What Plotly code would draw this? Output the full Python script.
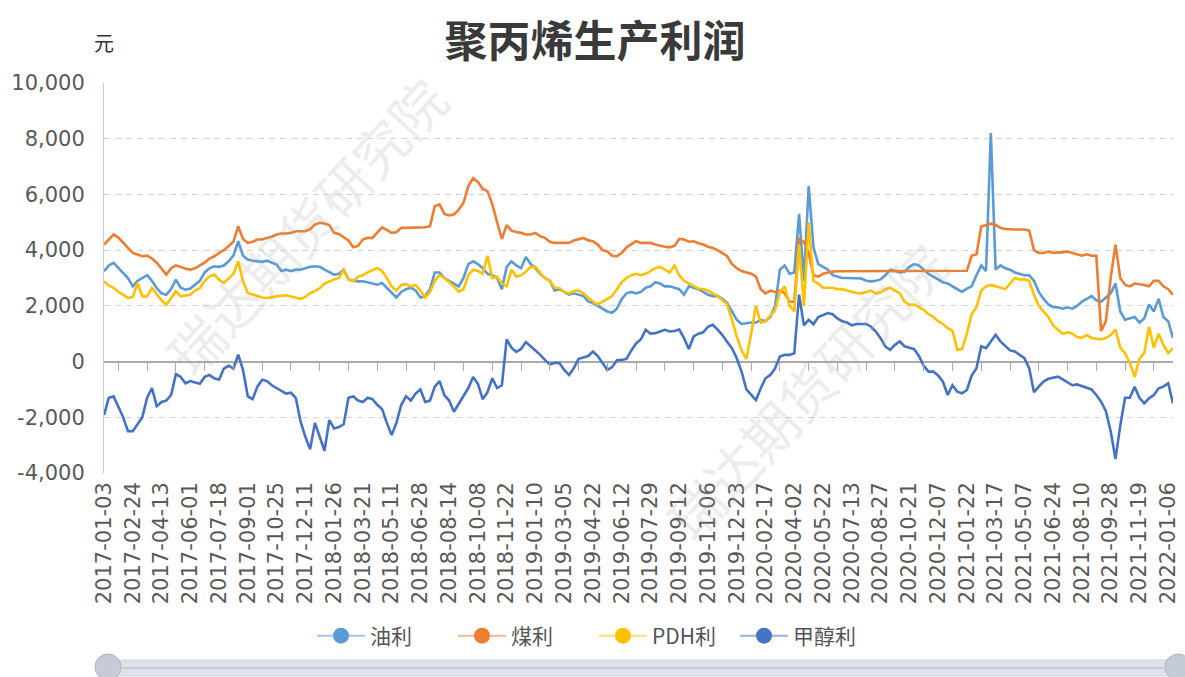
import pandas as pd
import plotly.graph_objects as go

# ---------------- data ----------------
tick_labels = [
    "2017-01-03", "2017-02-24", "2017-04-13", "2017-06-01", "2017-07-18", "2017-09-01",
    "2017-10-25", "2017-12-11", "2018-01-26", "2018-03-21", "2018-05-11", "2018-06-28",
    "2018-08-14", "2018-10-08", "2018-11-22", "2019-01-10", "2019-03-05", "2019-04-22",
    "2019-06-12", "2019-07-29", "2019-09-12", "2019-11-06", "2019-12-23", "2020-02-17",
    "2020-04-02", "2020-05-22", "2020-07-13", "2020-08-27", "2020-10-21", "2020-12-07",
    "2021-01-22", "2021-03-17", "2021-05-07", "2021-06-24", "2021-08-10", "2021-09-28",
    "2021-11-19", "2022-01-06",
]
tail_dates = ["2022-01-06", "2022-01-11"]

# sampled observation dates (6 per label interval)
dates = []
for a, b in zip(tick_labels[:-1], tick_labels[1:]):
    days = pd.bdate_range(a, b, inclusive="left")
    n = len(days)
    dates += [days[round(i * n / 6)].strftime("%Y-%m-%d") for i in range(6)]
dates += tail_dates

oil = [
    3240, 3450, 3540, 3350, 3200, 3000, 2700, 2900, 3000, 3100, 2900, 2640, 2450, 2400, 2600, 2940,
    2650, 2580, 2620, 2760, 2900, 3200, 3350, 3420, 3400, 3450, 3600, 3800, 4320, 3800, 3660, 3620,
    3600, 3580, 3620, 3550, 3480, 3250, 3300,
    3250, 3300, 3300, 3360, 3400, 3420, 3400, 3300, 3200, 3120, 3150, 3300, 2950, 2900, 2880, 2880,
    2850, 2800, 2760, 2820, 2650, 2500, 2300, 2500, 2600, 2650, 2550, 2300, 2350, 2600, 3200, 3200,
    3000, 2900, 2800, 2700, 3000, 3500, 3600, 3500,
    3350, 3150, 3100, 3000, 2600, 3400, 3600, 3450, 3350, 3750, 3500, 3350, 3150, 3000, 2900, 2550,
    2600, 2500, 2400, 2450, 2400, 2350, 2160, 2100, 2000, 1900, 1800, 1750, 1900, 2250, 2450, 2500,
    2450, 2500, 2650, 2700, 2850, 2800, 2700, 2700,
    2650, 2600, 2400, 2700, 2650, 2600, 2500, 2400, 2350, 2350, 2250, 2100, 1800, 1500, 1350, 1380,
    1400, 1400, 1500, 1450, 1600, 2000, 3300, 3450, 3150, 3200, 5300, 2900, 6300, 4100, 3500, 3400,
    3300, 3100, 3050, 3000, 3000, 3000, 3000,
    2980, 2900, 2880, 2900, 2950, 3100, 3300, 3250, 3200, 3220, 3400, 3500, 3450, 3300, 3150, 3050,
    2950, 2850, 2800, 2700, 2600, 2500, 2620, 2700, 3100, 3450, 3250, 8200, 3300, 3450, 3350, 3300,
    3200, 3150, 3100, 3100, 2900, 2500, 2250, 2050,
    1950, 1950, 1900, 1950, 1900, 2000, 2150, 2250, 2350, 2200, 2150, 2300, 2450, 2800, 1800, 1500,
    1550, 1600, 1400, 1550, 2050, 1800, 2250, 1600, 1450, 850,
]

coal = [
    4200, 4400, 4560, 4450, 4250, 4080, 3900, 3850, 3780, 3800, 3700, 3550, 3350, 3120, 3350, 3450,
    3400, 3330, 3300, 3350, 3450, 3550, 3700, 3780, 3900, 4000, 4150, 4300, 4860, 4400, 4260, 4300,
    4380, 4380, 4440, 4480, 4560, 4600, 4600,
    4620, 4680, 4680, 4680, 4750, 4920, 4980, 4960, 4900, 4620, 4580, 4450, 4350, 4100, 4150, 4380,
    4440, 4440, 4650, 4820, 4730, 4620, 4640, 4800, 4800, 4800, 4800, 4800, 4820, 4860, 5580, 5640,
    5300, 5250, 5280, 5450, 5700, 6300, 6580, 6450,
    6200, 6120, 5650, 5000, 4400, 4900, 4700, 4650, 4620, 4560, 4560, 4620, 4500, 4440, 4300, 4260,
    4260, 4260, 4260, 4350, 4400, 4440, 4350, 4320, 4200, 4000, 3950, 3800, 3780, 3900, 4100, 4200,
    4320, 4260, 4260, 4260, 4200, 4150, 4120, 4100,
    4150, 4400, 4380, 4300, 4320, 4250, 4200, 4120, 4080, 4000, 3900, 3780, 3500, 3350, 3250, 3200,
    3150, 3050, 2600, 2450, 2550, 2500, 2550, 2450, 2150, 2150, 4400, 4300, 3900, 3100, 3050, 3150,
    3200, 3230, 3240, 3240, 3240, 3240, 3240,
    3240, 3240, 3250, 3250, 3250, 3250, 3250, 3250, 3250, 3250, 3250, 3250, 3250, 3250, 3250, 3260,
    3260, 3260, 3260, 3260, 3260, 3260, 3260, 3800, 3850, 4850, 4900, 4950, 4900, 4800, 4760, 4740,
    4740, 4740, 4740, 4700, 4000, 3900, 3900, 3950,
    3900, 3920, 3920, 3950, 3900, 3850, 3800, 3850, 3800, 3800, 1100, 1450, 3000, 4200, 3000, 2760,
    2700, 2800, 2780, 2750, 2700, 2900, 2900, 2700, 2600, 2400,
]

pdh = [
    2880, 2730, 2650, 2500, 2400, 2280, 2320, 2820, 2340, 2340, 2640, 2400, 2200, 2040, 2300, 2520,
    2340, 2370, 2400, 2550, 2640, 2900, 3050, 3120, 2940, 2820, 3000, 3150, 3600, 2880, 2460, 2400,
    2340, 2300, 2280, 2320, 2340, 2360, 2380,
    2340, 2300, 2250, 2320, 2450, 2540, 2630, 2800, 2880, 2950, 3000, 3300, 2950, 2880, 3050, 3100,
    3200, 3280, 3360, 3250, 3000, 2700, 2550, 2750, 2780, 2700, 2750, 2550, 2300, 2500, 2900, 3100,
    3000, 2850, 2700, 2500, 2600, 3100, 3300, 3250,
    3150, 3800, 3000, 3050, 2800, 2700, 3300, 3050, 3100, 3220, 3400, 3400, 3180, 2980, 2900, 2650,
    2640, 2500, 2450, 2520, 2550, 2450, 2300, 2150, 2050, 2150, 2250, 2350, 2600, 2850, 3000, 3100,
    3150, 3100, 3150, 3250, 3350, 3400, 3300, 3200,
    3450, 3100, 2900, 2800, 2700, 2620, 2600, 2550, 2450, 2350, 2200, 2050, 1500, 900, 400, 100,
    1000, 2000, 1400, 1450, 1650, 1850, 2500, 2700, 2000, 1800, 4200, 2000, 5000, 2900, 2800, 2650,
    2650, 2650, 2600, 2600, 2550, 2500, 2460,
    2450, 2500, 2550, 2450, 2480, 2600, 2650, 2550, 2450, 2150, 2040, 2050, 1950, 1860, 1700, 1600,
    1450, 1350, 1200, 1100, 420, 450, 1000, 1700, 1950, 2550, 2700, 2750, 2700, 2650, 2600, 2800,
    3000, 2950, 2950, 2900, 2400, 2000, 1800, 1600,
    1300, 1150, 1000, 1050, 1000, 880, 850, 950, 850, 820, 800, 850, 950, 1150, 500, 300,
    -50, -550, 100, 300, 1250, 500, 1000, 600, 300, 480,
]

methanol = [
    -1920, -1300, -1250, -1650, -2000, -2500, -2500, -2250, -2000, -1300, -950, -1600, -1450, -1400,
    -1200, -450, -550, -780, -700, -750, -800, -550, -480, -600, -650, -250, -150, -250, 250, -300,
    -1250, -1350, -900, -650, -700, -850, -950, -1050, -1150,
    -1120, -1300, -2150, -2700, -3150, -2200, -2700, -3200, -2100, -2400, -2350, -2250, -1300, -1250,
    -1400, -1450, -1300, -1350, -1550, -1700, -2200, -2640, -2200, -1560, -1250, -1400, -1150, -1000,
    -1450, -1400, -900, -700, -1200, -1400, -1800, -1500, -1200, -950, -550, -800,
    -1350, -1100, -600, -950, -850, 800, 500, 350, 450, 700, 550, 400, 240, 50, -100, -50, -50, -300,
    -480, -240, 100, 150, 200, 360, 200, -50, -300, -200, 50, 60, 100, 400, 650, 800, 1140, 1000,
    1020, 1080, 1140, 1080,
    1100, 1150, 840, 450, 900, 1000, 1050, 1250, 1320, 1150, 950, 700, 480, 120, -360, -1000, -1200,
    -1380, -960, -600, -480, -240, 180, 240, 240, 300, 2400, 1300, 1500, 1340, 1600, 1680, 1740,
    1700, 1550, 1450, 1400, 1300, 1350,
    1350, 1350, 1250, 1080, 840, 540, 420, 600, 720, 550, 500, 450, 200, -150, -360, -360, -500,
    -720, -1200, -850, -1080, -1140, -1020, -500, -240, 550, 480, 720, 960, 720, 560, 400, 360, 240,
    120, -240, -1100, -900, -720, -620,
    -580, -540, -640, -760, -850, -820, -880, -950, -1000, -1200, -1440, -1780, -2500, -3500, -2300,
    -1300, -1300, -900, -1300, -1500, -1320, -1200, -960, -900, -780, -1500,
]

series_names = ["油利", "煤利", "PDH利", "甲醇利"]
series_colors = ["#5B9BD5", "#ED7D31", "#FFC000", "#4472C4"]
legend_line_colors = ["rgba(91,155,213,0.55)", "rgba(237,125,49,0.55)",
                      "rgba(255,192,0,0.55)", "rgba(68,114,196,0.55)"]

y_tick_vals = [-4000, -2000, 0, 2000, 4000, 6000, 8000, 10000]
y_tick_text = ["-4,000", "-2,000", "0", "2,000", "4,000", "6,000", "8,000", "10,000"]
mid_ticks = dates[3::6][:37]

title_text = "聚丙烯生产利润"
unit_text = "元"
watermark_text = "瑞达期货研究院"

# ---------------- figure ----------------
fig = go.Figure()
for name, vals, col in zip(series_names, [oil, coal, pdh, methanol], series_colors):
    fig.add_trace(go.Scatter(x=dates, y=vals, mode="lines", name=name,
                             line=dict(color=col, width=2.6), showlegend=False,
                             hoverinfo="x+y+name"))
# legend entries (line + circle icon)
for name, col, lcol in zip(series_names, series_colors, legend_line_colors):
    fig.add_trace(go.Scatter(x=[None], y=[None], mode="lines+markers", name=name,
                             line=dict(color=lcol, width=2),
                             marker=dict(color=col, size=18), showlegend=True))
# helper trace for the tick axis on the zero line
fig.add_trace(go.Scatter(x=[dates[0]], y=[None], xaxis="x2", yaxis="y",
                         showlegend=False, hoverinfo="skip"))

axis_font = dict(family="DejaVu Sans", size=21, color="#595959")
fig.update_layout(
    width=1185, height=677,
    margin=dict(l=104, r=12, t=83, b=204, autoexpand=False),
    paper_bgcolor="white", plot_bgcolor="white",
    font=dict(family="Noto Sans CJK SC", color="#333333"),
    title=dict(text=title_text, x=(595 / 1185), xref="container", xanchor="center",
               y=1 - 42 / 677, yref="container", yanchor="middle",
               font=dict(family="Noto Sans CJK SC", size=43, color="#3a3a3a", weight="bold")),
    xaxis=dict(type="category", categoryorder="array", categoryarray=dates,
               range=[0, len(dates) - 1], tickmode="array", tickvals=tick_labels,
               ticktext=tick_labels, tickangle=-90, ticks="", showgrid=False,
               showline=False, zeroline=False, tickfont=axis_font, ticklabelstandoff=4,
               automargin=False),
    xaxis2=dict(type="category", categoryorder="array", categoryarray=dates,
                range=[0, len(dates) - 1], overlaying="x", anchor="free",
                position=4000 / 14000, tickmode="array", tickvals=mid_ticks,
                ticks="outside", ticklen=8, tickcolor="#aaaaaa", tickwidth=1,
                showticklabels=False, showgrid=False, showline=False, zeroline=False,
                automargin=False),
    yaxis=dict(range=[-4000, 10000], tickmode="array", tickvals=y_tick_vals,
               ticktext=y_tick_text, showgrid=True, gridcolor="#d6d6d6", griddash="6px,5px",
               gridwidth=1, zeroline=True, zerolinecolor="#aaaaaa", zerolinewidth=1.5,
               showline=True, linecolor="#cccccc", linewidth=1, ticks="",
               tickfont=axis_font, ticklabelstandoff=14, automargin=False),
    legend=dict(orientation="h", x=(594 - 104) / 1069, xanchor="center", xref="paper",
                y=-(636 - 473) / 390, yanchor="middle",
                font=dict(family="Noto Sans CJK SC", size=21, color="#555555"),
                itemwidth=48, entrywidth=78, entrywidthmode="pixels",
                bgcolor="rgba(0,0,0,0)"),
    showlegend=True,
)

# unit label
fig.add_annotation(text=unit_text, xref="paper", yref="paper", x=0, y=1,
                   xanchor="center", yanchor="middle", yshift=41, showarrow=False,
                   font=dict(family="Noto Sans CJK SC", size=20, color="#333333"))

# watermarks
for wx, wy in [((305 - 104) / 1069, (473 - 225) / 390), ((805 - 104) / 1069, (473 - 390) / 390)]:
    fig.add_annotation(text=watermark_text, xref="paper", yref="paper", x=wx, y=wy,
                       xanchor="center", yanchor="middle", showarrow=False, textangle=-47,
                       font=dict(family="Noto Sans CJK SC", size=54, color="rgba(170,170,170,0.22)"))

# data-zoom slider decoration
fig.add_shape(type="rect", xref="paper", yref="paper", xsizemode="pixel", ysizemode="pixel",
              xanchor=0, yanchor=0, x0=4, x1=1074, y0=-187, y1=-203,
              fillcolor="#dde2ea", line=dict(color="#cfd5de", width=1), layer="above")
fig.add_shape(type="line", xref="paper", yref="paper", xsizemode="pixel", ysizemode="pixel",
              xanchor=0, yanchor=0, x0=18, x1=1060, y0=-195, y1=-195,
              line=dict(color="#c3cad5", width=2), layer="above")
for cx in [4, 1074]:
    fig.add_shape(type="circle", xref="paper", yref="paper", xsizemode="pixel", ysizemode="pixel",
                  xanchor=0, yanchor=0, x0=cx - 13, x1=cx + 13, y0=-181, y1=-207,
                  fillcolor="#c5ccd8", line=dict(color="#aab4c3", width=1), layer="above")

fig.write_html("out.html", include_plotlyjs=True, full_html=True,
               config={"displayModeBar": False},
               post_script="document.body.style.margin='0';document.body.style.overflow='hidden';")
